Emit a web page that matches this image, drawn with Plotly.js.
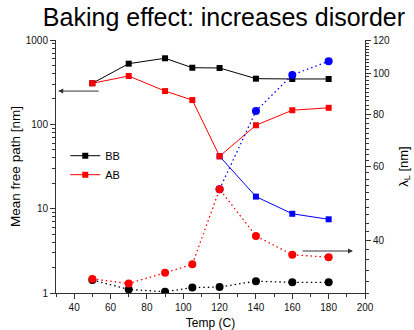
<!DOCTYPE html>
<html>
<head>
<meta charset="utf-8">
<script src="https://cdn.plot.ly/plotly-3.0.1.min.js"></script>
<style>html,body{margin:0;padding:0;background:#fff}#chart{width:414px;height:330px}</style>
</head>
<body>
<div id="chart"></div>
<script>
// Temperatures (C)
const temps = [50, 70, 90, 105, 120, 140, 160, 180];
const tempsHigh = [120, 140, 160, 180];
// Mean free path [nm] (left axis, log)
const bbMfp = [307, 524, 607, 469, 466, 348, 345, 345];
const abMfp = [307, 374, 248, 194, 41.8, 97.5, 147, 157];
const abMfpLow = [41.8, 13.9, 8.7, 7.48];
// Penetration depth lambda_L [nm] (right axis, log)
const bbLambda = [32.2, 30.6, 30.2, 30.9, 31.0, 32.0, 31.8, 31.8];
const abLambda = [32.4, 31.6, 33.5, 35.1, 53.0, 41.0, 37.0, 36.5];
const abLambdaHigh = [53.0, 81.3, 99.1, 106.8];

const xMajor = [40, 60, 80, 100, 120, 140, 160, 180, 200];
const xMinor = [30, 50, 70, 90, 110, 130, 150, 170, 190];
const yMajor = [1, 10, 100, 1000];
const yMinor = [];
[1, 10, 100].forEach(d => { for (let k = 2; k <= 9; k++) yMinor.push(d * k); });
const y2Major = [40, 60, 80, 100, 120];
const y2Minor = [];
for (let v = 30; v <= 120; v += 2) if (y2Major.indexOf(v) < 0) y2Minor.push(v);

const font = 'Liberation Sans, Arial, sans-serif';
const dotDash = '1.5px,3px';

const traces = [
  {x: tempsHigh, y: abLambdaHigh, yaxis: 'y2', mode: 'lines+markers', showlegend: false,
   line: {color: '#0000ff', width: 1.3, dash: dotDash}, marker: {symbol: 'circle', size: 8, color: '#0000ff'}},
  {x: temps, y: bbLambda, yaxis: 'y2', mode: 'lines+markers', showlegend: false,
   line: {color: '#000000', width: 1.3, dash: dotDash}, marker: {symbol: 'circle', size: 8, color: '#000000'}},
  {x: temps, y: abLambda, yaxis: 'y2', mode: 'lines+markers', showlegend: false,
   line: {color: '#ff0000', width: 1.3, dash: dotDash}, marker: {symbol: 'circle', size: 8, color: '#ff0000'}},
  {x: tempsHigh, y: abMfpLow, mode: 'lines+markers', showlegend: false,
   line: {color: '#0000ff', width: 1}, marker: {symbol: 'square', size: 6, color: '#0000ff'}},
  {x: temps, y: bbMfp, name: 'BB', mode: 'lines+markers',
   line: {color: '#000000', width: 1}, marker: {symbol: 'square', size: 6, color: '#000000'}},
  {x: temps, y: abMfp, name: 'AB', mode: 'lines+markers',
   line: {color: '#ff0000', width: 1}, marker: {symbol: 'square', size: 6, color: '#ff0000'}}
];

const layout = {
  width: 414, height: 330,
  margin: {l: 56, r: 49, t: 40, b: 37},
  paper_bgcolor: '#fff', plot_bgcolor: '#fff',
  font: {family: font, size: 10, color: '#000'},
  title: {text: 'Baking effect: increases disorder', font: {family: font, size: 25, color: '#000'},
          x: 0.541, xref: 'container', xanchor: 'center', y: 0.948, yref: 'container', yanchor: 'middle'},
  showlegend: true,
  legend: {x: 0.03, y: 0.6, xanchor: 'left', yanchor: 'top', bgcolor: 'rgba(0,0,0,0)',
           font: {family: font, size: 11, color: '#000'}, tracegroupgap: 0},
  xaxis: {range: [30, 200], showgrid: false, zeroline: false, showline: true, linecolor: '#333', linewidth: 1,
          ticks: 'outside', ticklen: 5, tickcolor: '#333', tickmode: 'array', tickvals: xMajor,
          tickfont: {family: font, size: 10, color: '#111'},
          minor: {tickmode: 'array', tickvals: xMinor, ticks: 'outside', ticklen: 3, tickcolor: '#333', showgrid: false},
          title: {text: 'Temp (C)', font: {family: font, size: 12}, standoff: 6}},
  yaxis: {type: 'log', range: [0, 3], showgrid: false, zeroline: false, showline: true, linecolor: '#333', linewidth: 1,
          ticks: 'outside', ticklen: 5, tickcolor: '#333', tickmode: 'array', tickvals: yMajor,
          ticktext: yMajor.map(String), tickfont: {family: font, size: 10, color: '#111'},
          minor: {tickmode: 'array', tickvals: yMinor, ticks: 'outside', ticklen: 3, tickcolor: '#333', showgrid: false},
          title: {text: 'Mean free path [nm]', font: {family: font, size: 13.5}, standoff: 2}},
  yaxis2: {type: 'log', range: [Math.log10(30), Math.log10(120)], overlaying: 'y', side: 'right', anchor: 'x',
           showgrid: false, zeroline: false, showline: true, linecolor: '#333', linewidth: 1,
           ticks: 'outside', ticklen: 5, tickcolor: '#333', tickmode: 'array', tickvals: y2Major,
           ticktext: y2Major.map(String), tickfont: {family: font, size: 10, color: '#111'},
           minor: {tickmode: 'array', tickvals: y2Minor, ticks: 'outside', ticklen: 3, tickcolor: '#333', showgrid: false},
           title: {text: 'λ<sub>L</sub> [nm]', font: {family: font, size: 13}, standoff: 9}},
  annotations: [
    {x: 31.2, y: Math.log10(248), xref: 'x', yref: 'y', ax: 42, ay: 0, showarrow: true, text: '',
     arrowhead: 2, arrowsize: 1, arrowwidth: 1, arrowcolor: '#333'},
    {x: 193.4, y: 0.498, xref: 'x', yref: 'y', ax: -52, ay: 0, showarrow: true, text: '',
     arrowhead: 2, arrowsize: 1, arrowwidth: 1, arrowcolor: '#333'}
  ]
};

Plotly.newPlot('chart', traces, layout, {displayModeBar: false, staticPlot: true});
</script>
</body>
</html>
